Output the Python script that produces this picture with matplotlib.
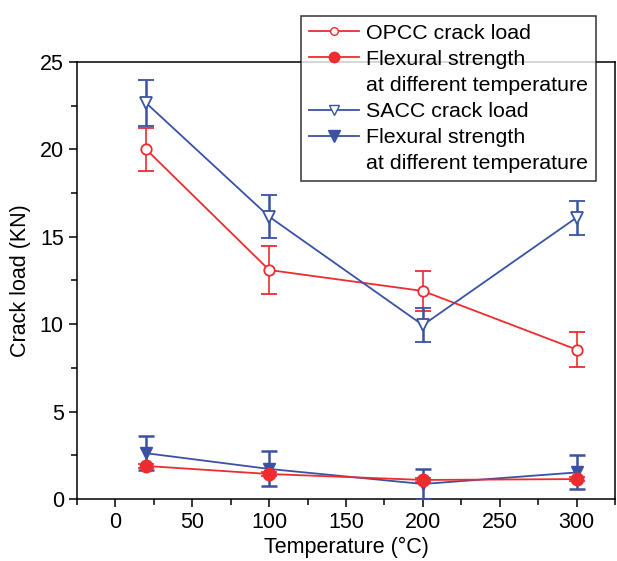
import matplotlib
matplotlib.use("Agg")
import matplotlib.pyplot as plt
from matplotlib.ticker import MultipleLocator
from matplotlib.lines import Line2D

plt.rcParams['font.family'] = ['Liberation Sans', 'DejaVu Sans']

temps = [20, 100, 200, 300]
opcc_crack = [20.0, 13.1, 11.9, 8.55]
opcc_crack_err = [1.25, 1.38, 1.12, 0.98]
opcc_flex = [1.89, 1.43, 1.09, 1.14]
opcc_flex_err = [0.1, 0.1, 0.1, 0.1]
sacc_crack = [22.65, 16.15, 9.95, 16.1]
sacc_crack_err = [1.3, 1.22, 0.97, 0.97]
sacc_flex = [2.62, 1.72, 0.86, 1.52]
sacc_flex_err = [0.98, 1.0, 0.85, 0.97]

legend_labels = ['OPCC crack load', 'Flexural strength', 'at different temperature',
                 'SACC crack load', 'Flexural strength', 'at different temperature']

red = '#EE2B2E'
blue = '#3A52A3'

fig = plt.figure(figsize=(6.17, 5.61), dpi=100)
ax = fig.add_axes([0.1248, 0.1105, 0.872, 0.779])

ax.errorbar(temps, opcc_crack, yerr=opcc_crack_err, color=red, marker='o', ms=7.5,
            mfc='white', mec=red, mew=1.3, lw=1.3, capsize=6, elinewidth=1.2, capthick=1.2, zorder=3)
ax.errorbar(temps, opcc_flex, yerr=opcc_flex_err, color=red, marker='o', ms=9,
            mfc=red, mec=red, lw=1.3, capsize=6, elinewidth=1.2, capthick=1.2, zorder=4)
ax.errorbar(temps, sacc_crack, yerr=sacc_crack_err, color=blue, marker='v', ms=9,
            mfc='white', mec=blue, mew=1.3, lw=1.3, capsize=6, elinewidth=1.8, capthick=1.8, zorder=3)
ax.errorbar(temps, sacc_flex, yerr=sacc_flex_err, color=blue, marker='v', ms=9,
            mfc=blue, mec=blue, lw=1.3, capsize=6, elinewidth=1.8, capthick=1.8, zorder=3)

ax.set_xlim(-25, 325)
ax.set_ylim(0, 25)
ax.xaxis.set_major_locator(MultipleLocator(50))
ax.xaxis.set_minor_locator(MultipleLocator(25))
ax.yaxis.set_major_locator(MultipleLocator(5))
ax.yaxis.set_minor_locator(MultipleLocator(2.5))
ax.tick_params(which='both', direction='out', top=False, right=False, labelsize=15.5, width=1.1)
ax.tick_params(which='major', length=6)
ax.tick_params(which='minor', length=4)
for s in ax.spines.values():
    s.set_linewidth(1.1)

ax.set_xlabel('Temperature (°C)', fontsize=15.5, labelpad=3)
ax.set_ylabel('Crack load (KN)', fontsize=15.5, labelpad=6)

hs = [Line2D([], [], color=red, marker='o', ms=5.5, mfc='white', mec=red, lw=1.3),
      Line2D([], [], color=red, marker='o', ms=7.5, mfc=red, mec=red, lw=1.3),
      Line2D([], [], color='none', lw=0),
      Line2D([], [], color=blue, marker='v', ms=7, mfc='white', mec=blue, lw=1.3),
      Line2D([], [], color=blue, marker='v', ms=8, mfc=blue, mec=blue, lw=1.3),
      Line2D([], [], color='none', lw=0)]
leg = fig.legend(hs, legend_labels, loc='upper left', bbox_to_anchor=(0.488, 0.972),
                 fontsize=15.4, frameon=True, fancybox=False, edgecolor='black',
                 handlelength=2.35, handletextpad=0.3, borderpad=0.38,
                 labelspacing=0.33, borderaxespad=0)
leg.get_frame().set_linewidth(1.1)
leg.set_zorder(10)

fig.savefig('out.png', dpi=100)
